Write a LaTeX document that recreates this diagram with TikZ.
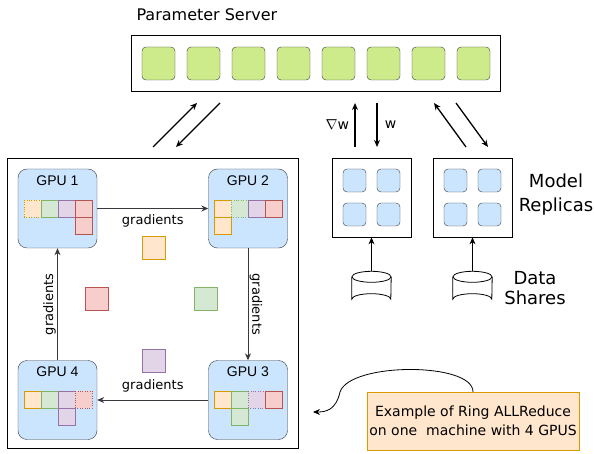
\documentclass[tikz,border=0pt]{standalone}
\usepackage{fontspec}
\setmainfont{DejaVu Sans}
\newfontfamily\gpufont{Liberation Sans}
\usetikzlibrary{arrows.meta,calc,positioning,shapes.geometric}

\definecolor{gpufill}{HTML}{CCE5FF}
\definecolor{boxline}{HTML}{36393D}
\definecolor{psfill}{HTML}{CDEB8B}
\definecolor{orfill}{HTML}{FFE6CC}
\definecolor{orline}{HTML}{D79B00}
\definecolor{grfill}{HTML}{D5E8D4}
\definecolor{grline}{HTML}{82B366}
\definecolor{pufill}{HTML}{E1D5E7}
\definecolor{puline}{HTML}{9673A6}
\definecolor{refill}{HTML}{F8CECC}
\definecolor{reline}{HTML}{B85450}

\begin{document}
\begin{tikzpicture}[x=1pt,y=-1pt,>={Stealth[length=7pt,width=6pt]},
    gpu/.style={draw=boxline,fill=gpufill,rounded corners=9pt,minimum width=79pt,minimum height=79pt,inner sep=0pt},
    chunk/.style={draw=#1line,fill=#1fill,minimum size=17pt,inner sep=0pt},
    loose/.style={draw=#1line,fill=#1fill,minimum size=23pt,inner sep=0pt},
    cell/.style={draw=boxline,fill=#1,rounded corners=4pt,inner sep=0pt},
    txt/.style={font=\fontsize{13}{15}\selectfont}]
    \useasboundingbox (0,0) rectangle (594,454);

    % parameter server
    \node[anchor=west,font=\fontsize{16}{18}\selectfont] (pstitle) at (133,15) {Parameter Server};
    \node[draw,line width=0.8pt,minimum width=369pt,minimum height=56pt,inner sep=0pt] (ps) at (315.5,63) {};
    \foreach \i in {0,...,7}
      \node[cell=psfill,minimum size=33pt] (ps\i) at (158.5+45*\i,63.5) {};

    % ring of gpus
    \node[draw,line width=0.8pt,minimum width=291pt,minimum height=290pt,inner sep=0pt] (ringbox) at (152.5,303) {};
    \node[gpu] (gpu1) at (57.5,208.5) {};
    \node[gpu] (gpu2) at (248,208.5) {};
    \node[gpu] (gpu3) at (248,400) {};
    \node[gpu] (gpu4) at (57.5,400) {};
    \foreach \g in {1,...,4}
      \node[font=\gpufont\fontsize{14}{16}\selectfont,below=3pt of gpu\g.north] (gpu\g lbl) {GPU \g};

    % chunks held by each gpu
    \node[chunk=or,dotted] (c1a) at (32.5,208.5) {};
    \node[chunk=gr] (c1b) at (49.5,208.5) {};
    \node[chunk=pu] (c1c) at (66.5,208.5) {};
    \node[chunk=re] (c1d) at (83.5,208.5) {};
    \node[chunk=re] (c1e) at (83.5,225.5) {};

    \node[chunk=or] (c2a) at (222.5,208.5) {};
    \node[chunk=gr,dotted] (c2b) at (239.5,208.5) {};
    \node[chunk=pu] (c2c) at (256.5,208.5) {};
    \node[chunk=re] (c2d) at (273.5,208.5) {};
    \node[chunk=or] (c2e) at (222.5,225.5) {};

    \node[chunk=or] (c3a) at (222.5,399.5) {};
    \node[chunk=gr] (c3b) at (239.5,399.5) {};
    \node[chunk=pu,dotted] (c3c) at (256.5,399.5) {};
    \node[chunk=re] (c3d) at (273.5,399.5) {};
    \node[chunk=gr] (c3e) at (239.5,416.5) {};

    \node[chunk=or] (c4a) at (32.5,399.5) {};
    \node[chunk=gr] (c4b) at (49.5,399.5) {};
    \node[chunk=pu] (c4c) at (66.5,399.5) {};
    \node[chunk=re,dotted] (c4d) at (83.5,399.5) {};
    \node[chunk=pu] (c4e) at (66.5,416.5) {};

    % chunks on the move
    \node[loose=or] (mvor) at (153.5,248) {};
    \node[loose=re] (mvre) at (97,298.5) {};
    \node[loose=gr] (mvgr) at (206,298.5) {};
    \node[loose=pu] (mvpu) at (153.5,360.5) {};

    \draw[->,draw=boxline,line width=0.8pt] (gpu1) -- node[txt,below=2pt] {gradients} (gpu2);
    \draw[->,draw=boxline,line width=0.8pt] (gpu2) -- node[txt,left=2pt,rotate=-90,anchor=south] {gradients} (gpu3);
    \draw[->,draw=boxline,line width=0.8pt] (gpu3) -- node[txt,above=4pt] {gradients} (gpu4);
    \draw[->,draw=boxline,line width=0.8pt] (gpu4) -- node[txt,right=2pt,rotate=90,anchor=south] {gradients} (gpu1);

    % model replicas
    \node[draw,line width=0.8pt,minimum width=79pt,minimum height=79pt,inner sep=0pt] (rep1) at (371.5,197.5) {};
    \node[draw,line width=0.8pt,minimum width=79pt,minimum height=79pt,inner sep=0pt] (rep2) at (472.5,197.5) {};
    \foreach \r in {1,2}
      \foreach \dx/\dy [count=\k] in {-17/-17,17/-17,-17/17,17/17}
        \node[cell=gpufill,minimum size=23pt] (rep\r c\k) at ($(rep\r)+(\dx,\dy)$) {};
    \node[align=center,font=\fontsize{18}{24}\selectfont] (replbl) at (556,195) {Model\\Replicas};

    % data shares
    \node[minimum width=39pt,minimum height=33pt,inner sep=0pt] (data1) at (371.5,288) {};
    \node[minimum width=39pt,minimum height=33pt,inner sep=0pt] (data2) at (472.5,288) {};
    \foreach \d in {1,2} {
      \draw[line width=0.8pt,fill=white] ($(data\d.north west)+(0,5.5)$) -- ($(data\d.south west)+(0,-5.5)$)
        arc[start angle=180,end angle=0,x radius=19.5pt,y radius=5.5pt] -- ($(data\d.north east)+(0,5.5)$);
      \draw[line width=0.8pt] ($(data\d.north)+(0,5.5)$) ellipse[x radius=19.5pt,y radius=5.5pt];
    }
    \node[align=center,font=\fontsize{18}{20}\selectfont] (datalbl) at (535,288) {Data\\Shares};
    \draw[->,line width=0.8pt] (data1.north) -- (rep1.south);
    \draw[->,line width=0.8pt] (data2.north) -- (rep2.south);

    % traffic to and from the server
    \coordinate (r1) at (153,147); \coordinate (r2) at (197,103);
    \coordinate (r3) at (220,103); \coordinate (r4) at (176,147);
    \coordinate (m1) at (355,147); \coordinate (m2) at (355,103);
    \coordinate (m3) at (377,103); \coordinate (m4) at (377,147);
    \coordinate (n1) at (466,147); \coordinate (n2) at (434,103);
    \coordinate (n3) at (456,103); \coordinate (n4) at (488,147);
    \draw[->,line width=1.3pt] (r1) -- (r2);
    \draw[->,line width=1.3pt] (r3) -- (r4);
    \draw[->,line width=1.3pt] (m1) -- node[left=2pt,font=\fontsize{14}{16}\selectfont] {$\nabla$w} (m2);
    \draw[->,line width=1.3pt] (m3) -- node[right=4pt,font=\fontsize{14}{16}\selectfont] {w} (m4);
    \draw[->,line width=1.3pt] (n1) -- (n2);
    \draw[->,line width=1.3pt] (n3) -- (n4);

    % note
    \node[draw=orline,fill=orfill,minimum width=212pt,minimum height=58pt,inner sep=0pt,align=center,
      font=\fontsize{14}{19}\selectfont] (note) at (473,421) {Example of Ring ALLReduce\\on one~ machine with 4 GPUS};
    \coordinate (ringpt) at (313,412);
    \draw[->,line width=0.8pt] (note.north) .. controls (473,362) and (350,362) .. (340,392)
      .. controls (336,410) and (326,412) .. (ringpt);
  \end{tikzpicture}
\end{document}
